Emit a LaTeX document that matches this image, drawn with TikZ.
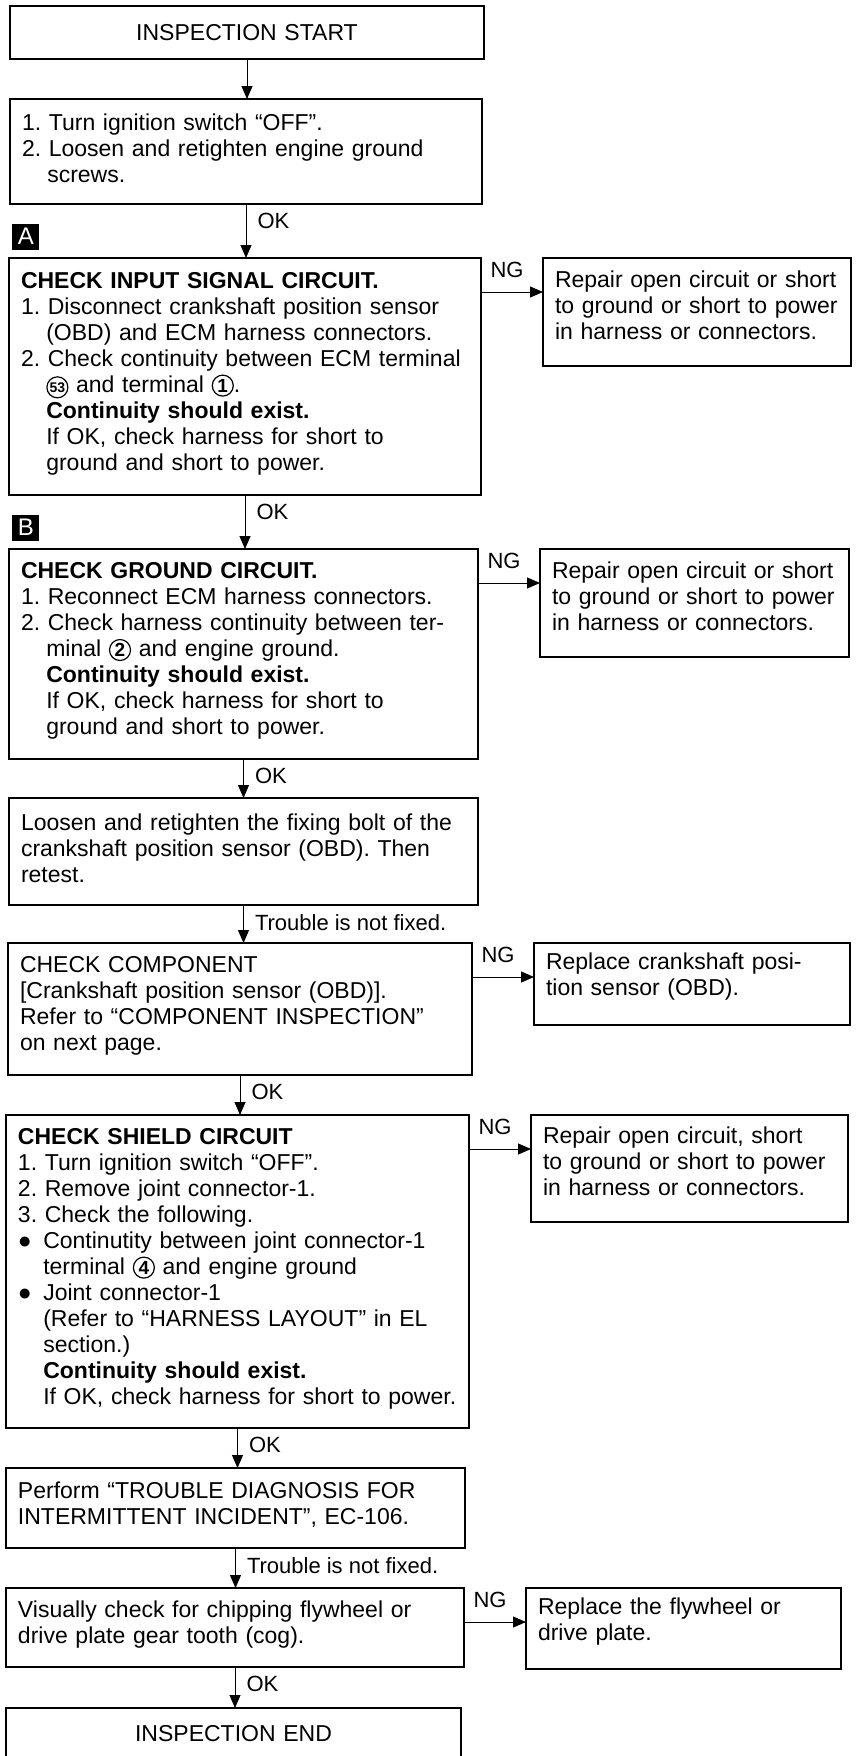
\documentclass[tikz,border=0pt]{standalone}
\usepackage{fontspec}
\setmainfont{Liberation Sans}
\frenchspacing
\usetikzlibrary{arrows.meta,positioning}
\newcommand{\indt}{\hspace*{1.1em}}
\newcommand{\bul}{\makebox[1.1em][l]{●}}
\newcommand{\cnum}[2][\fontsize{9.5}{9.5}\selectfont\bfseries]{%
  \tikz[baseline=(cn.base)]\node[draw, circle, line width=0.6pt, inner sep=0pt,
    outer sep=0pt, minimum size=10.5pt, font=#1] (cn) {#2};}
\tikzset{
  fb/.style={draw, line width=0.7pt, inner xsep=6pt, inner ysep=0pt, outer sep=0pt,
             font=\fontsize{11.5}{13}\selectfont},
  flow/.style={fb, align=left, execute at end node={\par\vspace*{3pt}}},
  side/.style={fb, align=left, execute at end node={\par\vspace*{7pt}}},
  capbox/.style={fb, align=center},
  tagbox/.style={fill=black, text=white, inner sep=0pt, minimum width=13.5pt,
             minimum height=13pt, font=\fontsize{12}{12}\selectfont},
  ar/.style={-{Triangle[length=6.5pt,width=5.5pt]}, line width=0.5pt},
  lbl/.style={anchor=north west, inner sep=0pt, font=\fontsize{11}{13}\selectfont},
}
\begin{document}
\begin{tikzpicture}[node distance=20pt and 31pt]
  \useasboundingbox (0,0) rectangle (429pt,-878pt);
  \node[capbox, text width=225pt, minimum height=26.5pt, anchor=north west] (start) at (5pt,-3pt) {INSPECTION START};
  \node[flow, text width=224pt, minimum height=52.5pt, below=20pt of start.south west, anchor=north west] (turn)
    {1. Turn ignition switch “OFF”.\\2. Loosen and retighten engine ground\\\indt screws.};
  \node[flow, text width=224pt, minimum height=118.5pt, below=27pt of turn.south west, anchor=north west, xshift=-0.5pt] (chkA)
    {\textbf{CHECK INPUT SIGNAL CIRCUIT.}\\
     1. Disconnect crankshaft position sensor\\
     \indt (OBD) and ECM harness connectors.\\
     2. Check continuity between ECM terminal\\
     \indt \cnum[\fontsize{7}{7}\selectfont\bfseries]{53} and terminal \cnum{1}.\\
     \indt \textbf{Continuity should exist.}\\
     \indt If OK, check harness for short to\\
     \indt ground and short to power.};
  \node[tagbox, above right=4pt and 1.5pt of chkA.north west] (tagA) {A};
  \node[side, text width=142pt, minimum height=54pt, right=31pt of chkA.north east, anchor=north west] (repA)
    {Repair open circuit or short\\to ground or short to power\\in harness or connectors.};
  \node[flow, text width=222.5pt, minimum height=105pt, below=27pt of chkA.south west, anchor=north west] (chkB)
    {\textbf{CHECK GROUND CIRCUIT.}\\
     1. Reconnect ECM harness connectors.\\
     2. Check harness continuity between ter-\\
     \indt minal \cnum{2} and engine ground.\\
     \indt \textbf{Continuity should exist.}\\
     \indt If OK, check harness for short to\\
     \indt ground and short to power.};
  \node[tagbox, above right=4pt and 1.5pt of chkB.north west] (tagB) {B};
  \node[side, text width=142.5pt, minimum height=54pt, right=31pt of chkB.north east, anchor=north west] (repB)
    {Repair open circuit or short\\to ground or short to power\\in harness or connectors.};
  \node[flow, text width=222.5pt, minimum height=53.5pt, below=19.5pt of chkB.south west, anchor=north west] (bolt)
    {Loosen and retighten the fixing bolt of the\\crankshaft position sensor (OBD). Then\\retest.};
  \node[flow, text width=220pt, minimum height=66pt, below=19pt of bolt.south west, anchor=north west, xshift=-0.5pt] (comp)
    {CHECK COMPONENT\\{}[Crankshaft position sensor (OBD)].\\Refer to “COMPONENT INSPECTION”\\on next page.};
  \node[side, text width=146pt, minimum height=41pt, right=31pt of comp.north east, anchor=north west] (repC)
    {Replace crankshaft posi-\\tion sensor (OBD).};
  \node[flow, text width=219.5pt, minimum height=156.5pt, below=20pt of comp.south west, anchor=north west, xshift=-1pt] (shield)
    {\textbf{CHECK SHIELD CIRCUIT}\\
     1. Turn ignition switch “OFF”.\\
     2. Remove joint connector-1.\\
     3. Check the following.\\
     \bul Continutity between joint connector-1\\
     \indt terminal \cnum{4} and engine ground\\
     \bul Joint connector-1\\
     \indt (Refer to “HARNESS LAYOUT” in EL\\
     \indt section.)\\
     \indt \textbf{Continuity should exist.}\\
     \indt If OK, check harness for short to power.};
  \node[side, text width=146.5pt, minimum height=53.5pt, right=31pt of shield.north east, anchor=north west] (repS)
    {Repair open circuit, short\\to ground or short to power\\in harness or connectors.};
  \node[flow, text width=217.5pt, minimum height=40pt, below=20pt of shield.south west, anchor=north west] (perform)
    {Perform “TROUBLE DIAGNOSIS FOR\\INTERMITTENT INCIDENT”, EC-106.};
  \node[flow, text width=217pt, minimum height=39.5pt, below=20pt of perform.south west, anchor=north west] (visual)
    {Visually check for chipping flywheel or\\drive plate gear tooth (cog).};
  \node[side, text width=145.5pt, minimum height=40.5pt, right=31pt of visual.north east, anchor=north west] (repV)
    {Replace the flywheel or\\drive plate.};
  \node[capbox, text width=215.5pt, minimum height=26pt, below=20.5pt of visual.south west, anchor=north west] (finish)
    {INSPECTION END};

  \draw[ar] (start.south) -- (start.south |- turn.north);
  \draw[ar] (turn.south) -- (turn.south |- chkA.north) node[lbl, pos=0, xshift=5.5pt, yshift=-4.5pt] {OK};
  \draw[ar] (chkA.south) -- (chkA.south |- chkB.north) node[lbl, pos=0, xshift=5.5pt, yshift=-4.5pt] {OK};
  \draw[ar] (chkB.south) -- (chkB.south |- bolt.north) node[lbl, pos=0, xshift=5.5pt, yshift=-4.5pt] {OK};
  \draw[ar] (bolt.south) -- (bolt.south |- comp.north) node[lbl, pos=0, xshift=5.5pt, yshift=-4.5pt] {Trouble is not fixed.};
  \draw[ar] (comp.south) -- (comp.south |- shield.north) node[lbl, pos=0, xshift=5.5pt, yshift=-4.5pt] {OK};
  \draw[ar] (shield.south) -- (shield.south |- perform.north) node[lbl, pos=0, xshift=5.5pt, yshift=-4.5pt] {OK};
  \draw[ar] (perform.south) -- (perform.south |- visual.north) node[lbl, pos=0, xshift=5.5pt, yshift=-4.5pt] {Trouble is not fixed.};
  \draw[ar] (visual.south) -- (visual.south |- finish.north) node[lbl, pos=0, xshift=5.5pt, yshift=-4.5pt] {OK};

  \draw[ar] ([yshift=-17pt]chkA.north east) -- ([yshift=-17pt]repA.north west) node[lbl, pos=0, xshift=4.5pt, yshift=15pt] {NG};
  \draw[ar] ([yshift=-17pt]chkB.north east) -- ([yshift=-17pt]repB.north west) node[lbl, pos=0, xshift=4.5pt, yshift=15pt] {NG};
  \draw[ar] ([yshift=-17pt]comp.north east) -- ([yshift=-17pt]repC.north west) node[lbl, pos=0, xshift=4.5pt, yshift=15pt] {NG};
  \draw[ar] ([yshift=-17pt]shield.north east) -- ([yshift=-17pt]repS.north west) node[lbl, pos=0, xshift=4.5pt, yshift=15pt] {NG};
  \draw[ar] ([yshift=-17pt]visual.north east) -- ([yshift=-17pt]repV.north west) node[lbl, pos=0, xshift=4.5pt, yshift=15pt] {NG};
\end{tikzpicture}
\end{document}
